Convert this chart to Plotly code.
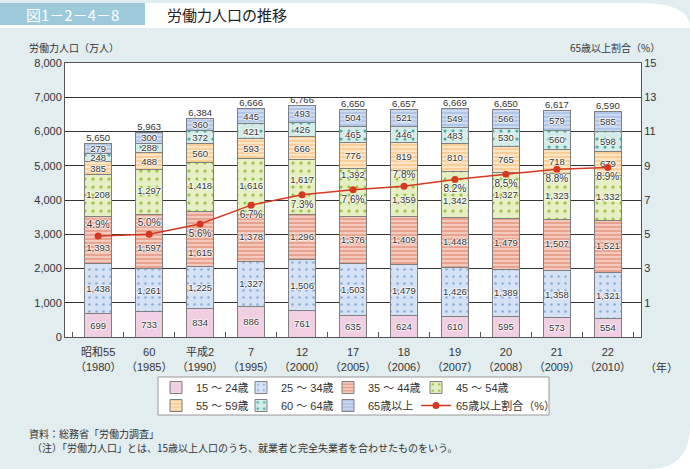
import plotly.graph_objects as go

# ---------------- data ----------------
categories = ["昭和55<br>（1980）", "60<br>（1985）", "平成2<br>（1990）", "7<br>（1995）",
              "12<br>（2000）", "17<br>（2005）", "18<br>（2006）", "19<br>（2007）",
              "20<br>（2008）", "21<br>（2009）", "22<br>（2010）"]
age_15_24 = [699, 733, 834, 886, 761, 635, 624, 610, 595, 573, 554]
age_25_34 = [1438, 1261, 1225, 1327, 1506, 1503, 1479, 1426, 1389, 1358, 1321]
age_35_44 = [1393, 1597, 1615, 1378, 1296, 1376, 1409, 1448, 1479, 1507, 1521]
age_45_54 = [1208, 1297, 1418, 1616, 1617, 1392, 1359, 1342, 1327, 1323, 1332]
age_55_59 = [385, 488, 560, 593, 666, 776, 819, 810, 765, 718, 679]
age_60_64 = [248, 288, 372, 421, 426, 465, 446, 483, 530, 560, 598]
age_65_up = [279, 300, 360, 445, 493, 504, 521, 549, 566, 579, 585]
totals = [5650, 5963, 6384, 6666, 6766, 6650, 6657, 6669, 6650, 6617, 6590]
ratio_65 = [4.9, 5.0, 5.6, 6.7, 7.3, 7.6, 7.8, 8.2, 8.5, 8.8, 8.9]
right_ticks = [1, 3, 5, 7, 9, 11, 13, 15]

series_names = ["15 ～ 24歳", "25 ～ 34歳", "35 ～ 44歳", "45 ～ 54歳",
                "55 ～ 59歳", "60 ～ 64歳", "65歳以上"]
line_name = "65歳以上割合（%）"

# ---------------- style ----------------
FONT = "Liberation Sans, Noto Sans CJK JP"
JFONT = "Noto Sans CJK JP"
PANEL = "#e2edf0"
TXT = "#333333"
halo = "1px 0px 1px white, -1px 0px 1px white, 0px 1px 1px white, 0px -1px 1px white"

styles = [
    dict(bg="#f1cfe2", fg="#f1cfe2", shape="", size=6, sol=0.3),
    dict(bg="#d5e2f5", fg="#8eaedc", shape=".", size=7, sol=0.12),
    dict(bg="#e8a28f", fg="#f7d4c8", shape="-", size=4, sol=0.4),
    dict(bg="#e6efc3", fg="#98c23a", shape=".", size=8, sol=0.12),
    dict(bg="#fde4c3", fg="#f5bf7a", shape="-", size=4, sol=0.3),
    dict(bg="#d4ece9", fg="#47aaa2", shape=".", size=8, sol=0.12),
    dict(bg="#c9d9f1", fg="#a5bde4", shape="-", size=4, sol=0.35),
]
legend_ids = ["legend", "legend2", "legend3", "legend4", "legend5", "legend6", "legend7"]
# label nudges for the two middle series (keeps them clear of the % labels, as in the original)
nudge_pos = {
    2: ["bottom center"] * 3 + ["middle center"] * 8,
    3: ["middle center"] * 4 + ["top center"] * 2 + ["bottom center"] * 2 + ["middle center"] * 3,
}
nudge_gap = {
    2: [4, 2, 14, 0, 0, 0, 0, 0, 0, 0, 0],
    3: [0, 0, 0, 0, 2, 18, 2, 2, 0, 0, 0],
}
series_values = [age_15_24, age_25_34, age_35_44, age_45_54, age_55_59, age_60_64, age_65_up]

fig = go.Figure()
base = [0] * len(categories)
for i, (name, vals, st) in enumerate(zip(series_names, series_values, styles)):
    use_bar_text = i not in nudge_pos
    fig.add_trace(go.Bar(
        x=categories, y=vals, name=name,
        marker=dict(color=st["bg"], line=dict(color="#7f7f7f", width=1),
                    pattern=dict(shape=st["shape"], fgcolor=st["fg"], bgcolor=st["bg"],
                                 size=st["size"], solidity=st["sol"], fillmode="replace")),
        text=[f"{v:,}" for v in vals] if use_bar_text else None,
        textposition="inside" if use_bar_text else "none",
        insidetextanchor="middle", textangle=0,
        textfont=dict(size=9.5, color=TXT, family=FONT, shadow=halo),
        legend=legend_ids[i], hoverinfo="skip",
    ))
    if not use_bar_text:
        mids = [b + v / 2 for b, v in zip(base, vals)]
        fig.add_trace(go.Scatter(
            x=categories, y=mids, mode="markers+text", text=[f"{v:,}" for v in vals],
            textposition=nudge_pos[i],
            marker=dict(size=nudge_gap[i], color="rgba(0,0,0,0)", line=dict(width=0)),
            textfont=dict(size=9.5, color=TXT, family=FONT, shadow=halo),
            showlegend=False, hoverinfo="skip",
        ))
    base = [b + v for b, v in zip(base, vals)]

# totals above bars
fig.add_trace(go.Scatter(
    x=categories, y=totals, mode="text", text=[f"{v:,}" for v in totals],
    textposition="top center", textfont=dict(size=9.5, color=TXT, family=FONT),
    showlegend=False, hoverinfo="skip", cliponaxis=False,
))

label_pos = ["top center", "top center", "bottom center", "bottom center", "bottom center",
             "bottom center", "top center", "bottom center", "bottom center", "bottom center",
             "bottom center"]
fig.add_trace(go.Scatter(
    x=categories, y=ratio_65, yaxis="y2", name=line_name, legend="legend8",
    mode="lines+markers+text", text=[f"{v:.1f}%" for v in ratio_65],
    textposition=label_pos,
    textfont=dict(size=10, color=TXT, family=FONT, shadow=halo),
    line=dict(color="#d6371f", width=1.5), marker=dict(color="#d6371f", size=7),
    hoverinfo="skip",
))

W, H = 690, 469
L, R, T, B = 65, 49, 63, 132
pw, ph = W - L - R, H - T - B


def px_x(x):
    return (x - L) / pw


def px_y(y):
    return (H - B - y) / ph


shapes = [
    dict(type="path", xref="paper", yref="paper", layer="below",
         path=f"M {px_x(0)},{px_y(3)} L {px_x(640)},{px_y(3)} Q {px_x(690)},{px_y(3)} {px_x(690)},{px_y(28)} L {px_x(0)},{px_y(28)} Z",
         fillcolor="white", line=dict(width=0)),
    dict(type="rect", xref="paper", yref="paper", layer="below",
         x0=px_x(0), x1=px_x(145), y0=px_y(3), y1=px_y(25),
         fillcolor="#9ccadb", line=dict(width=0)),
    dict(type="path", xref="paper", yref="paper", layer="below",
         path=f"M {px_x(690)},{px_y(425)} Q {px_x(690)},{px_y(469)} {px_x(648)},{px_y(469)} L {px_x(691)},{px_y(470)} Z",
         fillcolor="white", line=dict(width=0)),
    dict(type="rect", xref="paper", yref="paper", layer="below",
         x0=px_x(158), x1=px_x(549), y0=px_y(377), y1=px_y(415),
         fillcolor="white", line=dict(color="#9a9a9a", width=1)),
]

annotations = [
    dict(text="図1－2－4－8", x=px_x(72), y=px_y(14), xref="paper", yref="paper",
         showarrow=False, font=dict(size=15, color="white", family=JFONT), xanchor="center", yanchor="middle"),
    dict(text="労働力人口の推移", x=px_x(165), y=px_y(14), xref="paper", yref="paper",
         showarrow=False, font=dict(size=15, color="#222222", family=JFONT), xanchor="left", yanchor="middle"),
    dict(text="労働力人口（万人）", x=px_x(27), y=px_y(47), xref="paper", yref="paper",
         showarrow=False, font=dict(size=10, color=TXT, family=JFONT), xanchor="left", yanchor="middle"),
    dict(text="65歳以上割合（%）", x=px_x(662), y=px_y(47), xref="paper", yref="paper",
         showarrow=False, font=dict(size=10, color=TXT, family=JFONT), xanchor="right", yanchor="middle"),
    dict(text="（年）", x=px_x(643), y=px_y(367), xref="paper", yref="paper",
         showarrow=False, font=dict(size=11, color=TXT, family=JFONT), xanchor="left", yanchor="middle"),
    dict(text="資料：総務省「労働力調査」", x=px_x(27), y=px_y(433), xref="paper", yref="paper",
         showarrow=False, font=dict(size=10, color=TXT, family=JFONT), xanchor="left", yanchor="middle"),
    dict(text="（注）「労働力人口」とは、15歳以上人口のうち、就業者と完全失業者を合わせたものをいう。",
         x=px_x(30), y=px_y(447), xref="paper", yref="paper",
         showarrow=False, font=dict(size=10, color=TXT, family=JFONT), xanchor="left", yanchor="middle"),
]


def leg(x_px, y_px):
    return dict(orientation="h", x=px_x(x_px), y=px_y(y_px), xanchor="left", yanchor="top",
                bgcolor="rgba(0,0,0,0)", font=dict(size=11, family=FONT, color=TXT),
                itemwidth=30, traceorder="normal")


col_x = [156, 241, 328, 416]
row_y = [373, 391]
legend_layout = {}
for k in range(8):
    key = "legend" if k == 0 else f"legend{k + 1}"
    legend_layout[key] = leg(col_x[k % 4], row_y[k // 4])

fig.update_layout(
    width=W, height=H, margin=dict(l=L, r=R, t=T, b=B, autoexpand=False),
    paper_bgcolor=PANEL, plot_bgcolor="white",
    barmode="stack", bargap=0.46,
    font=dict(family=FONT, size=11, color=TXT),
    uniformtext=dict(minsize=9.5, mode="show"),
    xaxis=dict(type="category", showline=True, linecolor="#555555", mirror=True,
               ticks="inside", tickson="boundaries", ticklen=5, tickcolor="#555555",
               ticklabelstandoff=5,
               tickangle=0, tickfont=dict(size=11, family=FONT, color=TXT), showgrid=False),
    yaxis=dict(range=[0, 8000], dtick=1000, tickformat=",", showgrid=True,
               gridcolor="#333333", gridwidth=1, showline=True, linecolor="#555555",
               zeroline=False, ticks="", tickfont=dict(size=11, family=FONT, color=TXT)),
    yaxis2=dict(range=[-1, 15], tickmode="array", tickvals=right_ticks, overlaying="y", side="right",
                showgrid=False, zeroline=False, showline=True, linecolor="#555555",
                tickfont=dict(size=11, family=FONT, color=TXT)),
    shapes=shapes, annotations=annotations,
    **legend_layout,
)

fig.write_html("out.html", config={"displayModeBar": False},
               post_script="document.body.style.margin='0px';document.body.style.overflow='hidden';")
